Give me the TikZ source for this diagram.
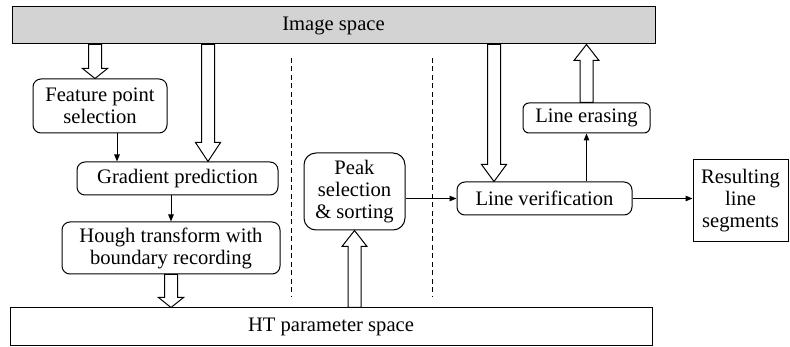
\documentclass[tikz,border=0pt]{standalone}
\usepackage{fontspec}
\setmainfont{Liberation Serif}
\usetikzlibrary{calc,arrows.meta}
\definecolor{boxgray}{RGB}{211,211,211}
\tikzset{
 base/.style={draw, line width=1pt, inner sep=0pt, align=center, font=\fontsize{20.6}{22}\selectfont},
 rbox/.style={base, rounded corners=8pt},
 sbox/.style={base},
 thinarrow/.style={line width=1pt, -{Triangle[length=7pt,width=5.5pt]}},
 blockar/.style={draw, fill=white, line width=1pt, line join=miter},
 divider/.style={line width=1pt, dash pattern=on 5pt off 3.5pt},
}
\newcommand\blockarrow[3]{%
 \path[blockar] let \p1=(#2), \p2=(#3), \n1={sign(\y2-\y1)}, \n2={\y2-(\n1)*(#1)} in
 ({\x1-6.5pt},\y1) -- ({\x1-6.5pt},\n2) -- ({\x1-12.5pt},\n2) -- (\x1,\y2)
 -- ({\x1+12.5pt},\n2) -- ({\x1+6.5pt},\n2) -- ({\x1+6.5pt},\y1) -- cycle;}
\begin{document}
\begin{tikzpicture}[x=1pt,y=-1pt]
\useasboundingbox (0,0) rectangle (790,347);
\node[sbox, fill=boxgray, minimum width=643pt, minimum height=37pt] (img) at (333.5,25.5) {Image space};
\node[sbox, minimum width=642pt, minimum height=38pt] (ht) at (331,327) {HT parameter space};
\node[rbox, minimum width=134pt, minimum height=54pt] (feat) at (100,106) {Feature point\\selection};
\node[rbox, minimum width=201pt, minimum height=33pt] (grad) at (177.5,178.5) {Gradient prediction};
\node[rbox, minimum width=218pt, minimum height=52pt] (hough) at (171,248) {Hough transform with\\boundary recording};
\node[rbox, rounded corners=12pt, minimum width=101pt, minimum height=77pt] (peak) at (354.5,191.5) {Peak\\selection\\\& sorting};
\node[rbox, minimum width=175pt, minimum height=33pt] (lv) at (544.5,198.5) {Line verification};
\node[rbox, rounded corners=6pt, minimum width=127pt, minimum height=30pt] (le) at (586.5,118) {Line erasing};
\node[sbox, minimum width=95pt, minimum height=82pt] (res) at (740.5,201) {Resulting\\line\\segments};
% dividers
\draw[divider] (291,58) -- (291,297);
\draw[divider] (432,58) -- (432,297);
% block arrows
\coordinate (a1) at (95,0);
\coordinate (a2) at (208,0);
\coordinate (a5) at (494,0);
\blockarrow{10pt}{img.south -| a1}{feat.north -| a1}
\blockarrow{19pt}{img.south -| a2}{grad.north -| a2}
\blockarrow{10pt}{hough.south}{ht.north -| hough.south}
\blockarrow{16pt}{ht.north -| peak.south}{peak.south}
\blockarrow{17pt}{img.south -| a5}{lv.north -| a5}
\blockarrow{16pt}{le.north}{img.south -| le.north}
% thin arrows
\coordinate (fg) at ([xshift=17pt]feat.south);
\draw[thinarrow] (fg) -- (fg |- grad.north);
\draw[thinarrow] (grad.south -| hough.north) -- (hough.north);
\draw[thinarrow] (peak.east |- lv.west) -- (lv.west);
\draw[thinarrow] (lv.north -| le.south) -- (le.south);
\draw[thinarrow] (lv.east) -- (lv.east -| res.west);
\end{tikzpicture}
\end{document}
